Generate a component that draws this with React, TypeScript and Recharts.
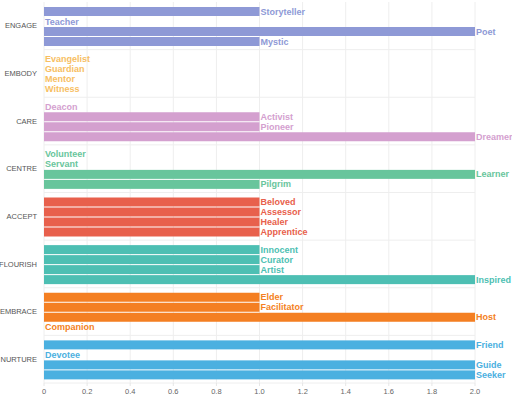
import React from "react";
import { BarChart, Bar, XAxis, YAxis, CartesianGrid } from "recharts";

const categories = ["ENGAGE", "EMBODY", "CARE", "CENTRE", "ACCEPT", "FLOURISH", "EMBRACE", "NURTURE"];
const categoryColors = ["#8e99d6", "#f7be62", "#d4a0cf", "#68c59c", "#e8604c", "#4dbfb3", "#f47f22", "#4bb0e0"];

const engageNames = ["Storyteller", "Teacher", "Poet", "Mystic"];
const engageValues = [1, 0, 2, 1];
const embodyNames = ["Evangelist", "Guardian", "Mentor", "Witness"];
const embodyValues = [0, 0, 0, 0];
const careNames = ["Deacon", "Activist", "Pioneer", "Dreamer"];
const careValues = [0, 1, 1, 2];
const centreNames = ["Volunteer", "Servant", "Learner", "Pilgrim"];
const centreValues = [0, 0, 2, 1];
const acceptNames = ["Beloved", "Assessor", "Healer", "Apprentice"];
const acceptValues = [1, 1, 1, 1];
const flourishNames = ["Innocent", "Curator", "Artist", "Inspired"];
const flourishValues = [1, 1, 1, 2];
const embraceNames = ["Elder", "Facilitator", "Host", "Companion"];
const embraceValues = [1, 1, 2, 0];
const nurtureNames = ["Friend", "Devotee", "Guide", "Seeker"];
const nurtureValues = [2, 0, 2, 2];

const xTicks = [0, 0.2, 0.4, 0.6, 0.8, 1.0, 1.2, 1.4, 1.6, 1.8, 2.0];

const allNames = [engageNames, embodyNames, careNames, centreNames, acceptNames, flourishNames, embraceNames, nurtureNames];
const allValues = [engageValues, embodyValues, careValues, centreValues, acceptValues, flourishValues, embraceValues, nurtureValues];

const data = categories.map((c, i) => {
  const row: any = { category: c, ci: i };
  for (let s = 0; s < 4; s++) {
    row["v" + s] = allValues[i][s];
    row["n" + s] = allNames[i][s];
  }
  return row;
});

const FONT = "'Liberation Sans', Arial, Helvetica, sans-serif";

const makeShape = (s: number) => (props: any) => {
  const { x, y, width, height, payload } = props;
  const ci = payload && typeof payload.ci === "number" ? payload.ci : 0;
  const color = categoryColors[ci];
  const name = payload ? payload["n" + s] : "";
  const w = Math.max(0, Number(width) || 0);
  return (
    <g>
      {w > 0 && <rect x={x} y={y} width={w} height={height} fill={color} />}
      <text
        x={Number(x) + w + 1}
        y={Number(y) + Number(height) / 2}
        dominantBaseline="central"
        fill={color}
        fontSize={9}
        fontWeight="bold"
        fontFamily={FONT}
      >
        {name}
      </text>
    </g>
  );
};

export default function App() {
  return (
    <div style={{ position: "absolute", left: 0, top: 0, width: 512, height: 397, background: "#fff" }}>
      <BarChart
        width={512}
        height={397}
        data={data}
        layout="vertical"
        margin={{ top: 2, right: 37, left: 0, bottom: 0 }}
        barCategoryGap={5}
        barGap={1}
      >
        <CartesianGrid
          stroke="#eeeeee"
          horizontalCoordinatesGenerator={({ offset }: any) => {
            const band = offset.height / categories.length;
            const out: number[] = [];
            for (let i = 1; i <= categories.length; i++) out.push(offset.top + i * band);
            return out;
          }}
        />
        <XAxis
          type="number"
          domain={[0, 2]}
          ticks={xTicks}
          interval={0}
          height={14}
          axisLine={false}
          tickLine={{ stroke: "#e6e6e6" }}
          tickSize={3}
          tickMargin={3}
          tick={{ fontSize: 7.5, fill: "#666", fontFamily: FONT }}
          tickFormatter={(v: number) => (v === 0 ? "0" : v.toFixed(1))}
        />
        <YAxis
          type="category"
          dataKey="category"
          width={44}
          axisLine={false}
          tickLine={false}
          tickSize={0}
          tickMargin={7}
          tick={{ fontSize: 7.5, fill: "#555", fontFamily: FONT }}
        />
        {[0, 1, 2, 3].map((s) => (
          <Bar key={s} dataKey={"v" + s} isAnimationActive={false} shape={makeShape(s)} />
        ))}
      </BarChart>
    </div>
  );
}
